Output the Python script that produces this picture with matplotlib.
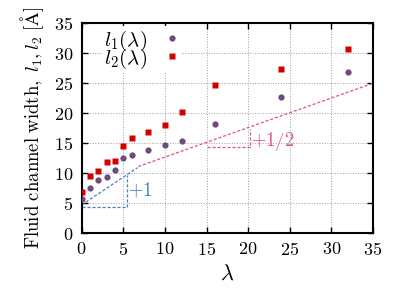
import numpy as np
import matplotlib
matplotlib.use('Agg')
import matplotlib.pyplot as plt

plt.rcParams['font.family'] = 'cmr10'
plt.rcParams['mathtext.fontset'] = 'cm'
plt.rcParams['axes.formatter.use_mathtext'] = True

# data
lam = [0, 1, 2, 3, 4, 5, 6, 8, 10, 12, 16, 24, 32]
l1 = [5.7, 7.5, 8.9, 9.4, 10.6, 12.6, 13.1, 13.9, 14.7, 15.4, 18.2, 22.7, 26.9]
l2 = [6.9, 9.6, 10.4, 11.8, 12.1, 14.6, 15.9, 16.9, 18.0, 20.2, 24.7, 27.3, 30.7]

# guide lines (slopes +1 and +1/2)
blue_x = [0, 6.7]
blue_y = [4.7, 10.9]
pink_x = [6.8, 35]
pink_y = [11.1, 25.0]
blue_tri_x = [0, 5.4, 5.4]
blue_tri_y = [4.3, 4.3, 9.7]
pink_tri_x = [15, 20.2, 20.2]
pink_tri_y = [14.4, 14.4, 17.4]

red = '#d40000'
purple = '#6d4b7d'
pink = '#e0509a'
blue = '#4a7fbd'

fig = plt.figure(figsize=(4.07, 2.95), dpi=100)
ax = fig.add_axes([0.2007, 0.210, 0.7158, 0.711])

ax.plot(lam, l1, 'o', color=purple, ms=4.5, mec='none', label=r'$l_1(\lambda)$', zorder=3)
ax.plot(lam, l2, 's', color=red, ms=4.5, mec='none', label=r'$l_2(\lambda)$', zorder=3)

ax.plot(blue_x, blue_y, '--', color=blue, lw=0.9, dashes=(2.5, 1.5))
ax.plot(blue_tri_x, blue_tri_y, '--', color=blue, lw=0.9, dashes=(2.5, 1.5))
ax.plot(pink_x, pink_y, '--', color=pink, lw=0.9, dashes=(2.5, 1.5))
ax.plot(pink_tri_x, pink_tri_y, '--', color=pink, lw=0.9, dashes=(2.5, 1.5))
ax.text(5.6, 7.1, r'$+1$', color=blue, fontsize=13.5, va='center')
ax.text(20.4, 15.3, r'$+1/2$', color=pink, fontsize=13.5, va='center')

ax.set_xlim(0, 35)
ax.set_ylim(0, 35)
ax.set_xticks(range(0, 36, 5))
ax.set_yticks(range(0, 36, 5))
ax.grid(True, color='#a0a0a0', ls=':', lw=0.7)
ax.tick_params(direction='in', top=True, right=True, length=4, width=1, labelsize=13, pad=6)
for s in ax.spines.values():
    s.set_linewidth(1.5)

ax.set_xlabel(r'$\lambda$', fontsize=16, labelpad=4)
ax.set_ylabel(r'$\mathrm{Fluid\ channel\ width,}\ l_1, l_2\ [\mathrm{\AA}]$', fontsize=13.5, labelpad=6)

leg = ax.legend(loc='upper left', bbox_to_anchor=(0.06, 1.0), markerfirst=False,
                frameon=True, fancybox=False, facecolor='white', edgecolor='none',
                framealpha=1, fontsize=15, handlelength=0.6, handletextpad=0.9,
                labelspacing=-0.3, borderpad=0.1, borderaxespad=0.15)

fig.savefig('out.png', dpi=100)
